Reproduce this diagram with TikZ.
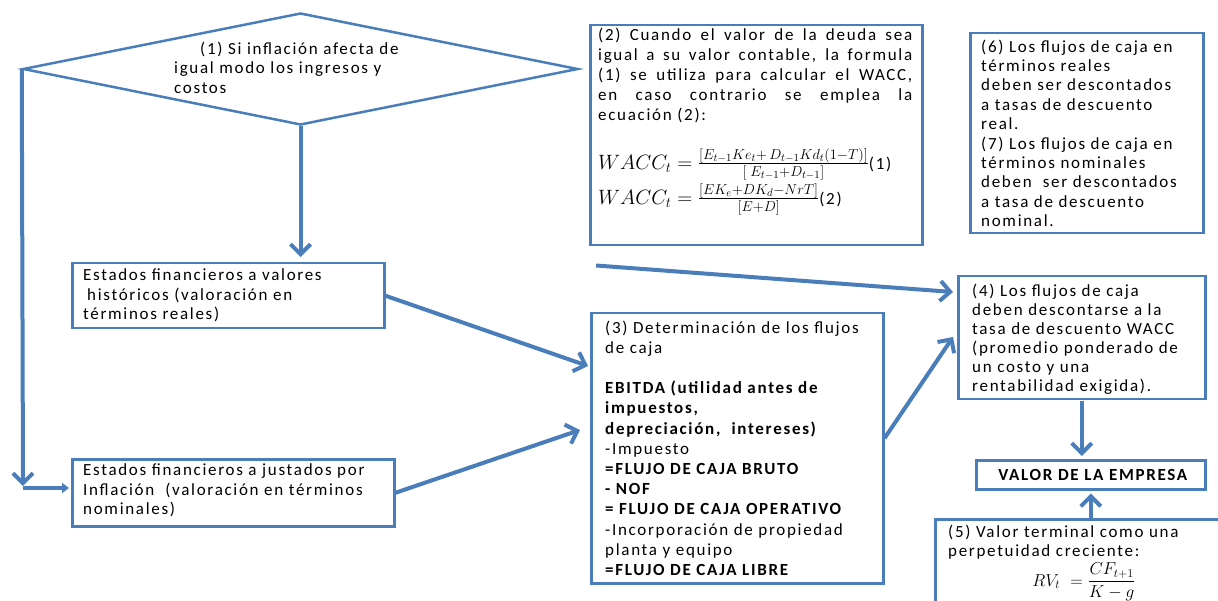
\documentclass[tikz,border=0pt]{standalone}
\usepackage{amsmath}
\usepackage{fontspec}
\setmainfont{Carlito}[LetterSpace=10]
\usetikzlibrary{arrows.meta,shapes.geometric,calc}
\definecolor{ob}{HTML}{4A7EBB}
\begin{document}
\begin{tikzpicture}[x=1pt,y=-1pt,
 box/.style={draw=ob, line width=2.5pt, rectangle, inner sep=0pt, anchor=north west},
 txt/.style={anchor=north west, inner sep=0pt, align=left, font=\fontsize{17}{19.5}\selectfont},
 arr/.style={draw=ob, line width=4pt, -{Straight Barb[length=10pt,width=20pt]}},
 arrs/.style={draw=ob, line width=4pt, -{Triangle[length=7pt,width=10pt]}},
]
\useasboundingbox (0,0) rectangle (1218,601);
\clip (0,0) rectangle (1218,601);
% diamond
\node[draw=ob, line width=2.5pt, shape=diamond, minimum width=555pt, minimum height=112pt, inner sep=0pt] (D) at (300.5,69) {};
\node[txt, font=\fontsize{17}{19.5}\selectfont] (Dt) at (174,41.5) {\hspace*{26pt}(1) Si inflación afecta de\\igual modo los ingresos y\\costos};
% left boxes
\node[box, minimum width=312pt, minimum height=65pt] (A) at (71,262) {};
\node[txt] (At) at (83,268.5) {Estados financieros a\ valores\\\hspace*{4pt}históricos (valoración en\\términos reales)};
\node[box, minimum width=322pt, minimum height=67pt] (B) at (71,458) {};
\node[txt] (Bt) at (83,463.5) {Estados financieros a justados por\\Inflación\ \ (valoración en términos\\nominales)};
% box 3
\node[box, minimum width=292pt, minimum height=270pt] (P3) at (590,312) {};
\node[txt, font=\fontsize{17}{20.2}\selectfont] (P3t) at (605,320.5) {(3) Determinación de los flujos\\de caja\\[20.2pt]
\textbf{EBITDA (utilidad antes de}\\\textbf{impuestos,}\\\textbf{depreciación,\ \ intereses)}\\-Impuesto\\
\textbf{=FLUJO DE CAJA BRUTO}\\\textbf{- NOF}\\\textbf{= FLUJO DE CAJA OPERATIVO}\\
-Incorporación de propiedad\\planta y equipo\\\textbf{=FLUJO DE CAJA LIBRE}};
% box 2
\node[box, minimum width=332pt, minimum height=220pt] (P2) at (589,24) {};
\node[txt, font=\fontsize{17}{20}\selectfont] (P2t) at (598,27.5) {\makebox[314pt][s]{(2) Cuando el valor de la deuda sea}\\\makebox[314pt][s]{igual a su valor contable, la formula}\\\makebox[314pt][s]{(1) se utiliza para calcular el WACC,}\\\makebox[314pt][s]{en caso contrario se emplea la}\\ecuación (2):};
\node[anchor=west, inner sep=0pt, font=\fontsize{21}{24}\selectfont] (F1) at (598,164) {$WACC_t=\frac{[E_{t-1}Ke_t+\,D_{t-1}Kd_t(1-T)]}{[\;E_{t-1}+D_{t-1}]}$\fontsize{17}{20}\selectfont(1)};
\node[anchor=west, inner sep=0pt, font=\fontsize{21}{24}\selectfont] (F2) at (598,199) {$WACC_t=\frac{[EK_e+DK_d-NrT]}{[E+D]}$\fontsize{17}{20}\selectfont(2)};
% box 6/7
\node[box, minimum width=233pt, minimum height=200pt] (P6) at (969,32) {};
\node[txt, font=\fontsize{17}{19.4}\selectfont] (P6t) at (981,39.5) {(6) Los flujos de caja en\\términos reales\\deben ser descontados\\a tasas de descuento\\real.\\(7) Los flujos de caja en\\términos nominales\\deben\ \ ser descontados\\a tasa de descuento\\nominal.};
% box 4
\node[box, minimum width=247pt, minimum height=123pt] (P4) at (957,275) {};
\node[txt, font=\fontsize{17}{19}\selectfont] (P4t) at (972,283.5) {(4) Los flujos de caja\\deben descontarse a la\\tasa de descuento WACC\\(promedio ponderado de\\un costo y una\\rentabilidad exigida).};
% valor
\node[box, minimum width=229pt, minimum height=29pt, font=\bfseries\fontsize{17}{19}\selectfont] (V) at (975,459) {\hspace*{4pt}VALOR DE LA EMPRESA};
% box 5
\node[box, minimum width=400pt, minimum height=200pt] (P5) at (934,518) {};
\node[txt, font=\fontsize{17}{18.5}\selectfont] (P5t) at (948,525) {(5) Valor terminal como una\\perpetuidad creciente:};
\node[inner sep=0pt, font=\fontsize{17}{20}\selectfont] (F5) at (1084,582) {$RV_t\ =\dfrac{CF_{t+1}}{K-g}$};
% connectors
\coordinate (L) at (23,488);
\draw[arr] (D.south) -- ($(D.south |- A.north)+(0,-5)$);
\draw[arr] (D.west) -- ($(L)+(0,-2)$);
\draw[arrs] (L) -- ($(L -| B.west)+(-2,0)$);
\draw[arr] (A.east) -- ($(P3.north west)+(-2,54)$);
\draw[arr] (B.east) -- ($(P3.north west)+(-10,118)$);
\draw[arr] ($(P2.south west)+(7,19)$) -- ($(P4.north west)+(-4,17)$);
\draw[arr] ($(P3.east)+(0,-10)$) -- ($(P4.north west)+(-4,62)$);
\draw[arr] (P4.south) -- ($(P4.south |- V.north)+(0,-3)$);
\draw[arr] (V.south |- P5.north) -- ($(V.south)+(0,3)$);
\end{tikzpicture}
\end{document}
